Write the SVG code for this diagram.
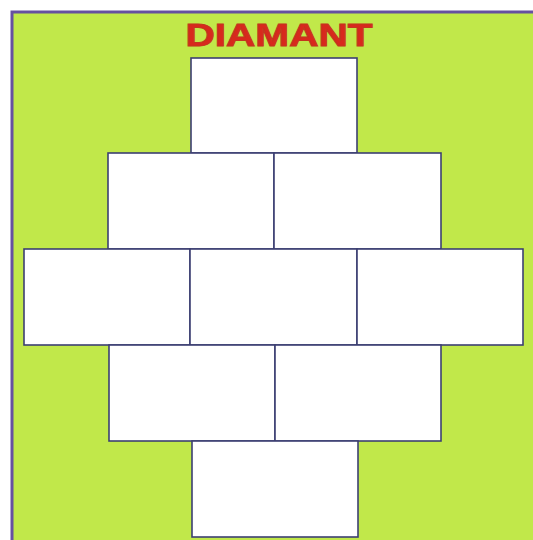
<svg xmlns="http://www.w3.org/2000/svg" width="533" height="540" viewBox="0 0 533 540">
<style>
.b{fill:#ffffff;stroke:#3c3f72;stroke-width:1.6}
.t{font-family:"Liberation Sans",Arial,sans-serif;font-weight:bold;font-size:32px;fill:#d8291d;stroke:#c4361e;stroke-width:1}
</style>
<rect x="0" y="0" width="533" height="540" fill="#ffffff"/>
<rect x="12" y="12" width="521" height="528" fill="#c1e84a"/>
<path d="M12,540 V12 H533" fill="none" stroke="#6650a0" stroke-width="3"/>
<text class="t" x="279" y="46" text-anchor="middle" textLength="187" lengthAdjust="spacingAndGlyphs">DIAMANT</text>
<g id="n1"><rect class="b" x="191" y="58" width="166" height="95"/></g>
<g id="n2"><rect class="b" x="108" y="153" width="166" height="96"/></g>
<g id="n3"><rect class="b" x="274" y="153" width="167" height="96"/></g>
<g id="n4"><rect class="b" x="24" y="249" width="166" height="96"/></g>
<g id="n5"><rect class="b" x="190" y="249" width="167" height="96"/></g>
<g id="n6"><rect class="b" x="357" y="249" width="166" height="96"/></g>
<g id="n7"><rect class="b" x="109" y="345" width="166" height="96"/></g>
<g id="n8"><rect class="b" x="275" y="345" width="166" height="96"/></g>
<g id="n9"><rect class="b" x="192" y="441" width="166" height="96"/></g>
<g id="connectors"></g>
</svg>
